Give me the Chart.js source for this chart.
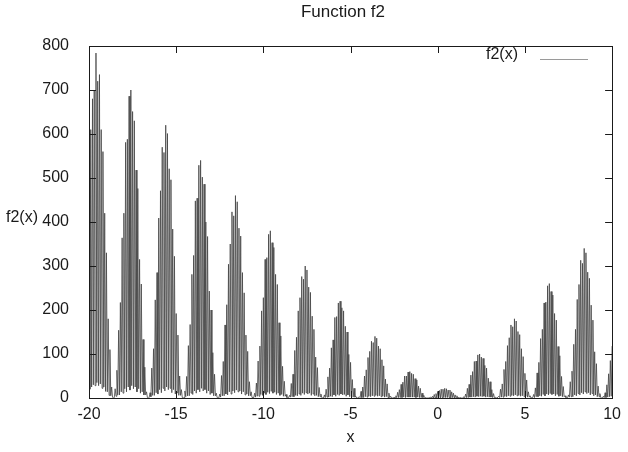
<!DOCTYPE html>
<html>
<head>
<meta charset="utf-8">
<title>Function f2</title>
<script src="https://cdn.jsdelivr.net/npm/chart.js@4.4.1/dist/chart.umd.min.js"></script>
<style>
  html, body { margin: 0; padding: 0; background: #fff; }
  #wrap { width: 628px; height: 452px; position: relative; }
</style>
</head>
<body>
<div id="wrap"><canvas id="f2Chart" width="628" height="452"></canvas></div>
<script>
const xStart = -20;
const xStep = 0.05;
const seriesName = 'f2(x)';
const chartTitle = 'Function f2';
const xTicks = [-20, -15, -10, -5, 0, 5, 10];
const yTicks = [0, 100, 200, 300, 400, 500, 600, 700, 800];

// x = -20.00 .. -18.65
const lobe0 = [500, 20, 610, 25, 680, 30, 700, 28, 784, 35, 720, 28, 735, 32, 610, 22, 560, 25, 420, 15, 330, 14, 180, 6, 110, 5, 25, 2];
// x = -18.60 .. -16.65
const lobe1 = [0, 1, 21, 4, 63, 7, 154, 7, 217, 14, 364, 11, 420, 21, 581, 14, 588, 25, 686, 18, 700, 28, 651, 21, 630, 25, 518, 14, 476, 21, 315, 11, 259, 14, 133, 7, 70, 7, 14, 1];
// x = -16.60 .. -14.65
const lobe2 = [0, 1, 12, 3, 68, 6, 112, 6, 223, 12, 285, 9, 409, 19, 471, 12, 570, 22, 558, 16, 620, 25, 601, 19, 521, 22, 496, 12, 384, 19, 322, 9, 192, 12, 143, 6, 50, 6, 19, 1];
// x = -14.60 .. -12.65
const lobe3 = [0, 1, 16, 3, 49, 5, 119, 5, 167, 11, 281, 8, 324, 16, 448, 11, 454, 19, 529, 14, 540, 22, 502, 16, 486, 19, 400, 11, 367, 16, 243, 8, 200, 11, 103, 5, 54, 5, 11, 1];
// x = -12.60 .. -10.65
const lobe4 = [0, 1, 9, 2, 51, 5, 83, 5, 166, 9, 212, 7, 304, 14, 350, 9, 423, 16, 414, 12, 460, 18, 446, 14, 386, 16, 368, 9, 285, 14, 239, 7, 143, 9, 106, 5, 37, 5, 14, 1];
// x = -10.60 .. -8.65
const lobe5 = [0, 1, 11, 2, 34, 4, 84, 4, 118, 8, 198, 6, 228, 11, 315, 8, 319, 13, 372, 10, 380, 15, 353, 11, 342, 13, 281, 8, 258, 11, 171, 6, 141, 8, 72, 4, 38, 4, 8, 1];
// x = -8.60 .. -6.65
const lobe6 = [0, 1, 6, 2, 33, 3, 54, 3, 108, 6, 138, 5, 198, 9, 228, 6, 276, 11, 270, 8, 300, 12, 291, 9, 252, 11, 240, 6, 186, 9, 156, 5, 93, 6, 69, 3, 24, 3, 9, 1];
// x = -6.60 .. -4.65
const lobe7 = [0, 0, 7, 1, 20, 2, 48, 2, 68, 4, 114, 3, 132, 7, 183, 4, 185, 8, 216, 6, 220, 9, 205, 7, 198, 8, 163, 4, 150, 7, 99, 3, 81, 4, 42, 2, 22, 2, 4, 0];
// x = -4.60 .. -2.65
const lobe8 = [0, 0, 3, 1, 15, 1, 25, 1, 50, 3, 64, 2, 92, 4, 106, 3, 129, 5, 126, 4, 140, 6, 136, 4, 118, 5, 112, 3, 87, 4, 73, 2, 43, 3, 32, 1, 11, 1, 4, 0];
// x = -2.60 .. -0.65
const lobe9 = [0, 0, 2, 0, 5, 1, 13, 1, 19, 1, 31, 1, 36, 2, 50, 1, 50, 2, 59, 2, 60, 2, 56, 2, 54, 2, 44, 1, 41, 2, 27, 1, 22, 1, 11, 1, 6, 1, 1, 0];
// x = -0.60 .. 1.35
const lobe10 = [0, 0, 0, 0, 2, 0, 4, 0, 8, 0, 10, 0, 15, 1, 17, 0, 20, 1, 20, 1, 22, 1, 21, 1, 18, 1, 18, 0, 14, 1, 11, 0, 7, 0, 5, 0, 2, 0, 1, 0];
// x = 1.40 .. 3.35
const lobe11 = [0, 0, 3, 1, 9, 1, 22, 1, 31, 2, 52, 2, 60, 3, 83, 2, 84, 4, 98, 3, 100, 4, 93, 3, 90, 4, 74, 2, 68, 3, 45, 2, 37, 2, 19, 1, 10, 1, 2, 0];
// x = 3.40 .. 5.35
const lobe12 = [0, 0, 4, 1, 20, 2, 32, 2, 65, 4, 83, 3, 119, 5, 137, 4, 166, 6, 162, 5, 180, 7, 175, 5, 151, 6, 144, 4, 112, 5, 94, 3, 56, 4, 41, 2, 14, 2, 5, 0];
// x = 5.40 .. 7.35
const lobe13 = [0, 1, 8, 1, 23, 3, 57, 3, 81, 5, 135, 4, 156, 8, 216, 5, 218, 9, 255, 7, 260, 10, 242, 8, 234, 9, 192, 5, 177, 8, 117, 4, 96, 5, 49, 3, 26, 3, 5, 1];
// x = 7.40 .. 9.35
const lobe14 = [0, 1, 7, 2, 37, 3, 61, 3, 122, 7, 156, 5, 224, 10, 258, 7, 313, 12, 306, 9, 340, 14, 330, 10, 286, 12, 272, 7, 211, 10, 177, 5, 105, 7, 78, 3, 27, 3, 10, 1];
// x = 9.40 .. 10.00
const lobeTail = [0, 0, 4, 1, 12, 1, 30, 2, 55, 3, 85, 4, 118];

const FONT = '"Liberation Sans", Arial, Helvetica, sans-serif';
const INK = '#1a1a1a';

const f2Values = [].concat(lobe0, lobe1, lobe2, lobe3, lobe4, lobe5, lobe6, lobe7,
  lobe8, lobe9, lobe10, lobe11, lobe12, lobe13, lobe14, lobeTail);
const f2Points = f2Values.map((v, i) => ({ x: Math.round((xStart + i * xStep) * 100) / 100, y: v }));

// gnuplot look: closed frame, inward ticks on all sides, horizontal ylabel, key at top right
const gnuFrame = {
  id: 'gnuFrame',
  afterDraw(chart) {
    const { ctx, chartArea: a, scales: { x, y } } = chart;
    const tk = 7;
    ctx.save();
    ctx.strokeStyle = INK;
    ctx.lineWidth = 1;
    ctx.strokeRect(Math.round(a.left) + 0.5, Math.round(a.top) + 0.5,
      Math.round(a.right - a.left), Math.round(a.bottom - a.top));
    ctx.beginPath();
    xTicks.forEach(v => {
      const px = Math.round(x.getPixelForValue(v)) + 0.5;
      ctx.moveTo(px, a.bottom); ctx.lineTo(px, a.bottom - tk);
      ctx.moveTo(px, a.top); ctx.lineTo(px, a.top + tk);
    });
    yTicks.forEach(v => {
      const py = Math.round(y.getPixelForValue(v)) + 0.5;
      ctx.moveTo(a.left, py); ctx.lineTo(a.left + tk, py);
      ctx.moveTo(a.right, py); ctx.lineTo(a.right - tk, py);
    });
    ctx.stroke();

    ctx.fillStyle = INK;
    ctx.textBaseline = 'middle';
    ctx.textAlign = 'center';
    ctx.font = '17px ' + FONT;
    ctx.fillText(chartTitle, 343, 12);

    ctx.font = '16px ' + FONT;
    ctx.textAlign = 'left';
    ctx.fillText('f2(x)', 6, 218);

    ctx.textAlign = 'right';
    ctx.fillText(seriesName, 518, 55);
    ctx.strokeStyle = '#9a9a9a';
    ctx.beginPath();
    ctx.moveTo(540, 59.5); ctx.lineTo(588, 59.5);
    ctx.stroke();
    ctx.restore();
  }
};

new Chart(document.getElementById('f2Chart'), {
  type: 'line',
  data: {
    datasets: [{
      label: seriesName,
      data: f2Points,
      borderColor: '#444',
      borderWidth: 0.8,
      pointRadius: 0,
      tension: 0,
      fill: false
    }]
  },
  options: {
    responsive: false,
    animation: false,
    events: [],
    layout: { padding: { left: 0, right: 14, top: 46, bottom: 0 } },
    plugins: {
      legend: { display: false },
      tooltip: { enabled: false },
      title: { display: false }
    },
    scales: {
      x: {
        type: 'linear',
        min: -20,
        max: 10,
        afterBuildTicks: s => { s.ticks = xTicks.map(v => ({ value: v })); },
        afterFit: s => { s.height = 54; },
        grid: { display: false, drawTicks: false },
        border: { display: false },
        ticks: { color: INK, font: { family: FONT, size: 16 }, padding: 7, maxRotation: 0 },
        title: { display: true, text: 'x', color: INK, font: { family: FONT, size: 16 }, padding: { top: 0, bottom: 5 } }
      },
      y: {
        min: 0,
        max: 800,
        afterBuildTicks: s => { s.ticks = yTicks.map(v => ({ value: v })); },
        afterFit: s => { s.width = 89; },
        grid: { display: false, drawTicks: false },
        border: { display: false },
        ticks: { color: INK, font: { family: FONT, size: 16 }, padding: 20 }
      }
    }
  },
  plugins: [gnuFrame]
});
</script>
</body>
</html>
